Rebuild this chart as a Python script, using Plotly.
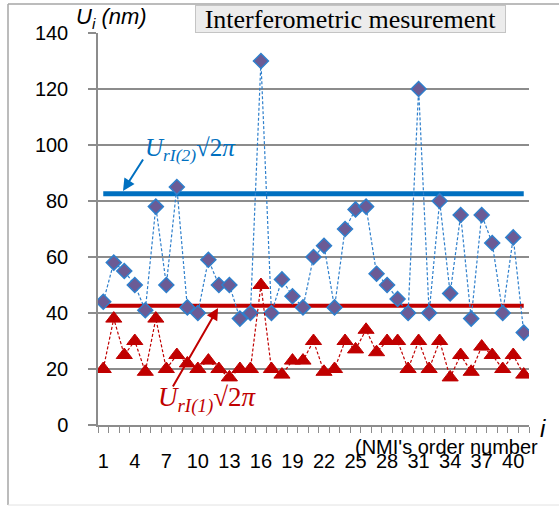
import plotly.graph_objects as go

# ---- data ----
order_number = list(range(1, 42))
u_interf_2 = [44, 58, 55, 50, 41, 78, 50, 85, 42, 40, 59, 50, 50, 38, 40, 130, 40, 52, 46, 42,
              60, 64, 42, 70, 77, 78, 54, 50, 45, 40, 120, 40, 80, 47, 75, 38, 75, 65, 40, 67, 33]
u_interf_1 = [20, 38, 25, 30, 19, 38, 20, 25, 22, 20, 23, 20, 17, 20, 20, 50, 20, 18, 23, 23,
              30, 19, 20, 30, 27, 34, 26, 30, 30, 20, 30, 20, 30, 17, 25, 19, 28, 25, 20, 25, 18]
limit_2_value = 82.6
limit_1_value = 42.6
limit_x = [1, 41]
x_tick_vals = list(range(1, 42, 3))
x_tick_text = [str(v) for v in x_tick_vals]
y_tick_vals = list(range(0, 141, 20))

BLUE = "#0070C0"
RED = "#C00000"
GRID = "#8c8c8c"

fig = go.Figure()

fig.add_trace(go.Scatter(x=limit_x, y=[limit_2_value] * 2, mode="lines",
                         line=dict(color=BLUE, width=5), hoverinfo="skip"))
fig.add_trace(go.Scatter(x=limit_x, y=[limit_1_value] * 2, mode="lines",
                         line=dict(color=RED, width=4), hoverinfo="skip"))

fig.add_trace(go.Scatter(x=order_number, y=u_interf_2, mode="lines+markers",
                         line=dict(color="#2E7FCC", width=1.2, dash="3px,2px"),
                         marker=dict(symbol="diamond", size=11.5, color="#6B5B95",
                                     line=dict(color="#2E7FCC", width=1.5))))
fig.add_trace(go.Scatter(x=order_number, y=u_interf_1, mode="lines+markers",
                         line=dict(color=RED, width=1.2, dash="3px,2px"),
                         marker=dict(symbol="triangle-up", size=14, color=RED,
                                     line=dict(color=RED, width=1))))

L, T, W, H = 98, 33, 431, 392


def px(xp):
    return (xp - L) / W


def py(yp):
    return (T + H - yp) / H


annotations = [
    dict(text="Interferometric mesurement", xref="paper", yref="paper",
         x=px(350.5), y=py(19), xanchor="center", yanchor="middle", showarrow=False,
         font=dict(family="Liberation Serif", size=26, color="black"),
         bgcolor="#ececec", bordercolor="#c4c4c4", borderwidth=1, borderpad=0,
         width=309, height=26),
    dict(text="<i>U<sub>i</sub></i><i> (nm)</i>", xref="paper", yref="paper",
         x=px(74), y=py(18), xanchor="left", yanchor="middle", showarrow=False,
         font=dict(family="Liberation Sans", size=22, color="black")),
    dict(text="<i>i</i>", xref="paper", yref="paper",
         x=px(543), y=py(428), xanchor="center", yanchor="middle", showarrow=False,
         font=dict(family="Liberation Sans", size=24, color="black")),
    dict(text="(NMI's order number", xref="paper", yref="paper",
         x=px(353), y=py(447), xanchor="left", yanchor="middle", showarrow=False,
         font=dict(family="Liberation Sans", size=20, color="black")),
    dict(text="<i>U</i><sub><i>rI(2)</i></sub>√2<i>π</i>", xref="paper", yref="paper",
         x=px(143), y=py(149), xanchor="left", yanchor="middle", showarrow=False,
         font=dict(family="Liberation Serif", size=25, color=BLUE)),
    dict(text="<i>U</i><sub><i>rI(1)</i></sub>√2<i>π</i>", xref="paper", yref="paper",
         x=px(156), y=py(399), xanchor="left", yanchor="middle", showarrow=False,
         font=dict(family="Liberation Serif", size=27, color=RED)),
    dict(text="", xref="x", yref="y", x=2.88, y=83.6, ax=21, ay=-33,
         showarrow=True, arrowhead=2, arrowsize=1.2, arrowwidth=2, arrowcolor=BLUE),
    dict(text="", xref="x", yref="y", x=11.92, y=41.8, ax=-46, ay=80,
         showarrow=True, arrowhead=2, arrowsize=1.2, arrowwidth=2, arrowcolor=RED),
]

shapes = [
    dict(type="line", xref="paper", yref="paper", x0=px(8), x1=px(8), y0=py(4), y1=py(505),
         line=dict(color="#a6a6a6", width=1.5)),
    dict(type="line", xref="paper", yref="paper", x0=px(8), x1=px(600), y0=py(4), y1=py(4),
         line=dict(color="#a6a6a6", width=1.5)),
    dict(type="line", xref="paper", yref="paper", x0=px(8), x1=px(600), y0=py(505), y1=py(505),
         line=dict(color="#e2e2e2", width=1)),
]

fig.update_layout(
    width=559, height=506,
    margin=dict(l=L, r=559 - L - W, t=T, b=506 - T - H),
    paper_bgcolor="white", plot_bgcolor="white",
    showlegend=False,
    annotations=annotations,
    shapes=shapes,
    font=dict(family="Liberation Sans", size=20, color="black"),
)

fig.update_xaxes(range=[0.5, 41.5], tickmode="array", tickvals=x_tick_vals, ticktext=x_tick_text,
                 ticks="outside", ticklen=0, showgrid=False, zeroline=False,
                 showline=True, linecolor=GRID, linewidth=1.5,
                 minor=dict(tick0=0.5, dtick=1, ticks="outside", ticklen=6,
                            tickcolor=GRID, tickwidth=1, showgrid=False),
                 ticklabelstandoff=17,
                 tickfont=dict(family="Liberation Sans", size=20, color="black"))
fig.update_yaxes(range=[0, 140], tickmode="array", tickvals=y_tick_vals,
                 ticks="outside", ticklen=8, tickcolor=GRID, tickwidth=1.5,
                 showgrid=True, gridcolor=GRID, gridwidth=1.5, zeroline=False,
                 showline=True, linecolor=GRID, linewidth=1.5,
                 ticklabelstandoff=16,
                 tickfont=dict(family="Liberation Sans", size=20, color="black"))

fig.write_html("out.html")
